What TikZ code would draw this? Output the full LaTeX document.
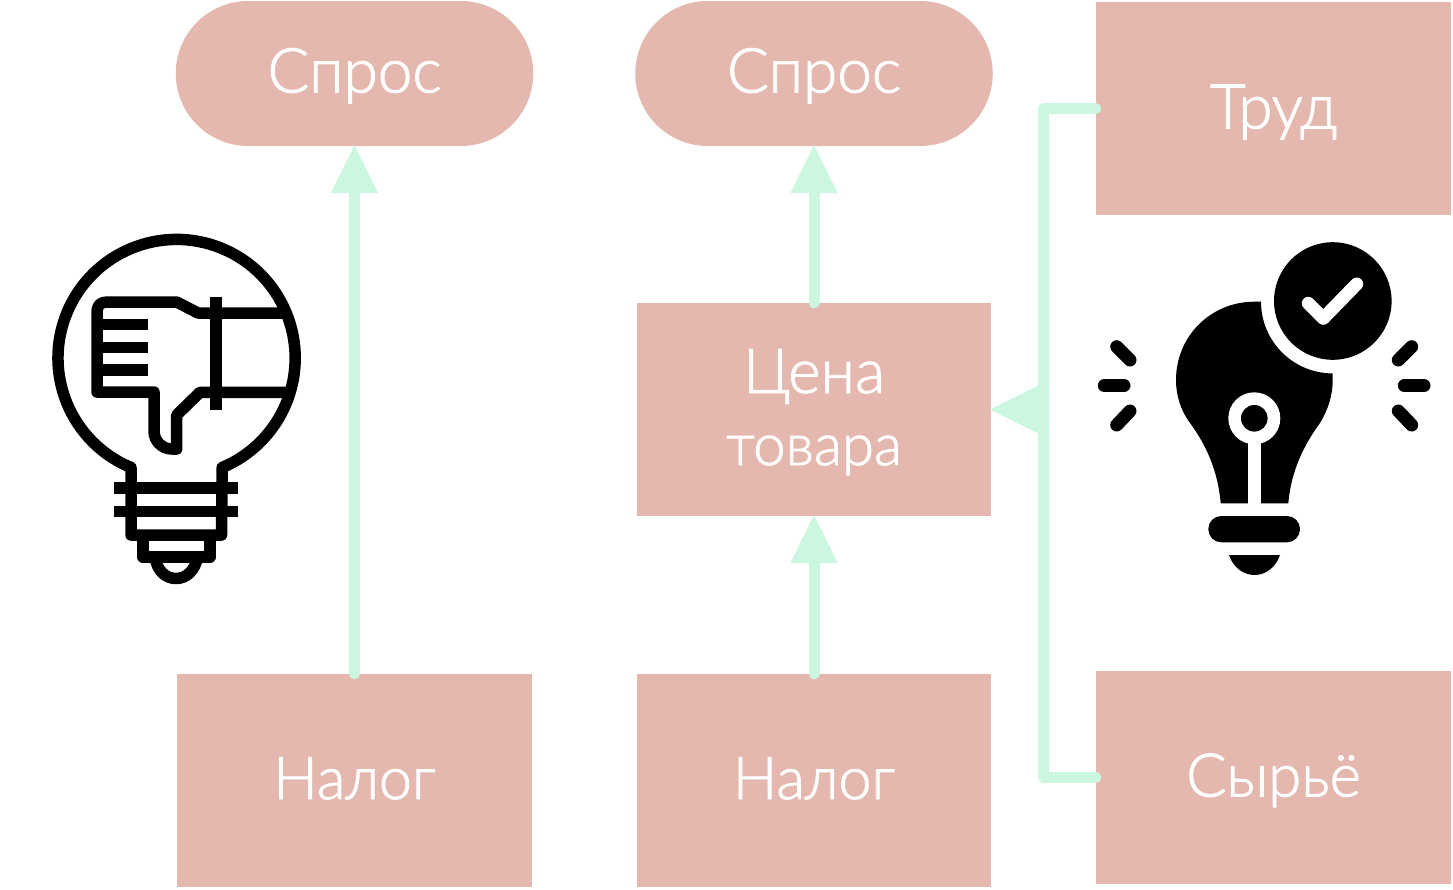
\documentclass[tikz,border=0pt]{standalone}
\usepackage{fontspec}
\setmainfont{Lato Light}[FakeBold=1.5]
\usetikzlibrary{arrows.meta}
\definecolor{boxc}{HTML}{E4B8AE}
\definecolor{arrc}{HTML}{CBF7E0}
\newcommand{\tx}[3]{\smash{\raisebox{#1pt}{\fontsize{#2}{72}\selectfont #3}}}
\tikzset{
  lbl/.style={fill=boxc,inner sep=0pt,text=white,align=center,font=\fontsize{62}{72}\selectfont},
  recta/.style={lbl,rectangle,minimum width=#1,minimum height=213},
  pill/.style={lbl,rectangle,rounded corners=72.5,minimum width=357.5,minimum height=145},
  conn/.style={draw=arrc,line width=11,line cap=round,line join=round,shorten >=-1pt,-{Triangle[width=47.5,length=48,line width=0pt]}},
  ico/.style={line width=11.5,line join=round,draw=black},
  ray/.style={line width=13,line cap=round,draw=black}
}
\begin{document}
\begin{tikzpicture}[x=1pt,y=1pt,yscale=-1]
\useasboundingbox (0,0) rectangle (1453,889);
% boxes
\node[pill] (spros1) at (354.5,73.5) {\tx{-19}{62}{Спрос}};
\node[pill] (spros2) at (814,73.5) {\tx{-19}{62}{Спрос}};
\node[recta=355] (nalog1) at (354.5,780.5) {\tx{-18.5}{59}{Налог}};
\node[recta=354] (nalog2) at (814,780.5) {\tx{-18.5}{59}{Налог}};
\node[recta=354] (cena) at (814,409.5) {\tx{-19.5}{62}{Цена}\\\tx{-19.5}{58}{товара}};
\node[recta=355] (trud) at (1273.5,108.5) {\tx{-20}{62}{Труд}};
\node[recta=355] (syr) at (1273.5,777.5) {\tx{-19}{60}{Сырьё}};
% connectors
\draw[conn] (nalog1.north) -- (spros1.south);
\draw[conn] (nalog2.north) -- (cena.south);
\draw[conn] (cena.north) -- (spros2.south);
\coordinate (bus) at (1043.7,409.5);
\draw[conn] (trud.west) -| (bus) -- (cena.east);
\draw[conn] (syr.west) -| (bus) -- (cena.east);
% thumbs-down bulb
\draw[ico] (131,484) -- (131,467.5) arc[start angle=112.6,end angle=427.4,radius=118.6] -- (221.5,535) -- (131,535) -- cycle;
\draw[ico] (114,488) -- (238,488);
\draw[ico] (114,511.5) -- (238,511.5);
\draw[ico] (143,535) -- (143,557) -- (210,557) -- (210,535);
\draw[ico] (155,557) .. controls (157,571) and (166,578.5) .. (176,578.5) .. controls (186,578.5) and (195,571) .. (197.5,557);
\draw[ico] (286,313) -- (198,313) -- (176.7,302) -- (107,302) .. controls (100,302) and (97,306) .. (97,312) -- (97,392) -- (154,392) -- (154,431) .. controls (154,441) and (162,449) .. (172,449) -- (176.7,449) -- (176.7,415) -- (200,392.3) -- (288,392.3);
\draw[ico,line join=miter] (216,296.5) -- (216,410);
\draw[ico] (97,324.7) -- (148.3,324.7);
\draw[ico] (97,347.7) -- (148.3,347.7);
\draw[ico] (97,370) -- (148.3,370);
% check bulb
\fill (1332.8,301) circle[radius=58.8];
\fill (1261,301.7) arc[start angle=180,end angle=90,radius=71.7]
  -- (1332.7,380) .. controls (1332.7,395) and (1328,410) .. (1320,423)
  .. controls (1303,446) and (1291,472) .. (1288.3,503.3)
  -- (1220.7,503.3) .. controls (1218,472) and (1207,446) .. (1190,423)
  .. controls (1181,411) and (1176,396) .. (1176,380)
  .. controls (1176,336) and (1211,301.7) .. (1254.3,301.7) -- cycle;
\fill[white] (1254.3,418.3) circle[radius=26];
\fill[white] (1247.7,430) rectangle (1261,504);
\fill (1254.3,418.3) circle[radius=13.3];
\fill[rounded corners=13] (1208.3,516) rectangle (1300,542.3);
\fill (1229,555) -- (1280,555) .. controls (1276,567) and (1266,575) .. (1254.5,575) .. controls (1243,575) and (1233,567) .. (1229,555) -- cycle;
\draw[line width=13,line cap=round,line join=round,white] (1308.3,303.3) -- (1323.3,318.3) -- (1356.7,284);
\draw[ray] (1104.3,385.7) -- (1124,385.7);
\draw[ray] (1116.7,346.7) -- (1130,360);
\draw[ray] (1130,411) -- (1116.7,425);
\draw[ray] (1404.3,385.7) -- (1424,385.7);
\draw[ray] (1411.7,346.7) -- (1398.3,360);
\draw[ray] (1398.3,411) -- (1411.7,425);
\end{tikzpicture}
\end{document}
